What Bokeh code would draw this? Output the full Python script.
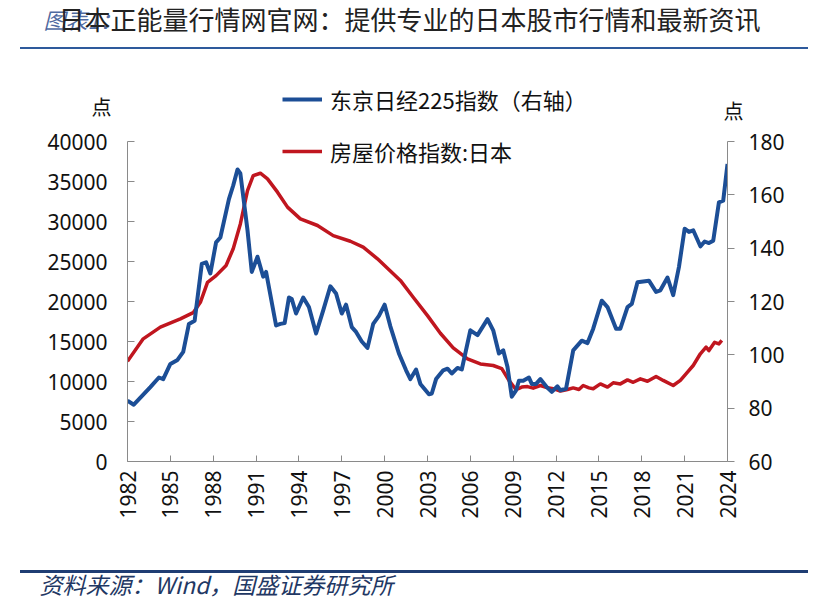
from math import pi
from bokeh.plotting import figure
from bokeh.models import LinearAxis, Range1d, FixedTicker, Legend, LegendItem, Title, Div
from bokeh.layouts import column
from bokeh.embed import file_html
from bokeh.resources import INLINE

# ---------------- data ----------------
nikkei_year = [1982.0, 1982.44, 1983.6, 1984.2, 1984.5, 1985.0, 1985.5, 1985.9, 1986.3, 1986.7,
               1987.2, 1987.5, 1987.8, 1988.2, 1988.5, 1989.1, 1989.4, 1989.7, 1989.9, 1990.4,
               1990.7, 1991.1, 1991.5, 1991.7, 1992.4, 1992.7, 1993.0, 1993.3, 1993.5, 1993.8,
               1994.3, 1994.7, 1995.2, 1995.7, 1996.2, 1996.6, 1997.0, 1997.3, 1997.7, 1998.0,
               1998.4, 1998.8, 1999.2, 1999.6, 2000.0, 2000.4, 2001.0, 2001.5, 2001.8, 2002.2,
               2002.5, 2003.1, 2003.3, 2003.6, 2004.1, 2004.4, 2004.7, 2005.1, 2005.4, 2006.0,
               2006.5, 2007.2, 2007.6, 2008.0, 2008.3, 2008.6, 2008.9, 2009.2, 2009.4, 2009.7,
               2010.1, 2010.3, 2010.6, 2010.9, 2011.4, 2011.7, 2012.1, 2012.3, 2012.7, 2013.2,
               2013.8, 2014.2, 2014.6, 2015.2, 2015.6, 2016.2, 2016.5, 2017.0, 2017.3, 2017.7,
               2018.5, 2019.0, 2019.3, 2019.8, 2020.2, 2020.6, 2021.0, 2021.3, 2021.6, 2022.1,
               2022.4, 2022.7, 2023.0, 2023.4, 2023.7, 2024.0]
nikkei_value = [7600, 7100, 9300, 10500, 10300, 12200, 12700, 13700, 17200, 17600,
                24700, 24900, 23500, 27400, 28000, 32800, 34500, 36500, 36000, 28900,
                23700, 25600, 23100, 23700, 17000, 17200, 17300, 20500, 20300, 18500,
                20500, 19300, 16000, 18900, 21900, 21000, 18500, 19600, 16800, 16200,
                15000, 14200, 17200, 18200, 19600, 16900, 13500, 11400, 10300, 11500,
                9700, 8400, 8500, 10300, 11400, 11600, 11000, 11700, 11500, 16400,
                15800, 17800, 16400, 13500, 13900, 11800, 8100, 8900, 10100, 10100,
                10500, 9700, 9700, 10300, 9200, 8700, 9400, 8900, 9100, 13900,
                15100, 14800, 16600, 20100, 19300, 16600, 16600, 19300, 19700, 22400,
                22600, 21200, 21400, 23000, 20800, 24300, 29100, 28700, 28900, 26900,
                27500, 27300, 27600, 32400, 32600, 37200]

house_year = [1982.0, 1983.1, 1984.3, 1985.7, 1986.6, 1987.1, 1987.6, 1988.2, 1988.9, 1989.4,
              1989.9, 1990.4, 1990.8, 1991.3, 1991.8, 1992.5, 1993.2, 1994.1, 1995.3, 1996.4,
              1997.6, 1998.5, 1999.5, 2000.4, 2001.1, 2002.0, 2003.0, 2003.9, 2004.8, 2005.8,
              2006.7, 2007.6, 2008.2, 2008.7, 2009.2, 2009.6, 2010.0, 2010.4, 2010.9, 2011.3,
              2011.8, 2012.3, 2012.8, 2013.2, 2013.6, 2013.9, 2014.3, 2014.6, 2015.1, 2015.6,
              2016.0, 2016.5, 2017.0, 2017.4, 2017.9, 2018.4, 2019.0, 2019.5, 2020.2, 2020.7,
              2021.2, 2021.6, 2022.1, 2022.5, 2022.7, 2023.1, 2023.4, 2023.6]
house_index = [97.6, 106.0, 110.4, 113.5, 115.8, 119.7, 127.2, 129.7, 133.5, 139.8,
               149.1, 161.6, 167.2, 168.1, 166.0, 161.0, 155.4, 151.0, 148.5, 144.7,
               142.6, 140.4, 136.0, 131.4, 127.9, 121.6, 114.7, 108.1, 102.6, 98.5,
               96.6, 96.0, 94.8, 90.4, 86.9, 87.9, 88.1, 87.5, 88.5, 87.8,
               87.3, 86.4, 87.0, 87.6, 87.0, 88.5, 87.6, 87.3, 89.1, 87.9,
               89.5, 89.1, 90.6, 89.7, 91.0, 90.1, 91.9, 90.4, 88.5, 90.4,
               93.5, 96.0, 100.4, 102.9, 101.6, 104.7, 104.1, 105.4]

left_ticks = [0, 5000, 10000, 15000, 20000, 25000, 30000, 35000, 40000]
right_ticks = [60, 80, 100, 120, 140, 160, 180]
year_ticks = list(range(1982, 2025, 3))

title_text = "日本正能量行情网官网：提供专业的日本股市行情和最新资讯"
watermark_text = "图表1："
legend_labels = ["东京日经225指数（右轴）", "房屋价格指数:日本"]
unit_label = "点"
source_text = "资料来源：Wind，国盛证券研究所"

CJK = "Noto Sans CJK SC"
BLUE = "#1C4E96"
RED = "#C0161F"
AXIS = "#8a8a8a"
W = 816
BL, BR = 127, 89


def strip(height, xr=(0, 1), yr=(0, 1), transparent=False):
    f = figure(width=W, height=height, x_range=Range1d(*xr), y_range=Range1d(*yr),
               output_backend="svg", toolbar_location=None,
               min_border_left=BL, min_border_right=BR, min_border_top=0, min_border_bottom=0,
               x_axis_location=None, y_axis_location=None)
    f.grid.visible = False
    f.outline_line_color = None
    f.border_fill_color = "white"
    f.background_fill_color = "white"
    if transparent:
        f.border_fill_alpha = 0
        f.background_fill_alpha = 0
    return f


# ---------------- faint figure-number watermark behind the title ----------------
wm = strip(47)
wm.title = Title(text=watermark_text, align="left", offset=-84, standoff=0,
                 text_font=CJK, text_font_size="22px", text_font_style="italic",
                 text_color="#2F4F8F", text_alpha=0.85)

# ---------------- page title (overlaps watermark) ----------------
top = strip(50, transparent=True)
top.margin = (-50, 0, 0, 0)
top.title = Title(text=title_text, align="left", offset=-69, standoff=0,
                  text_font=CJK, text_font_size="26px", text_font_style="normal",
                  text_color="#222222")

rule1 = Div(text="", width=788, height=2, margin=(0, 0, 0, 20),
            styles={"background-color": "#2E5A9C"})

# ---------------- key strip: unit labels + legend (chart overlaps its lower part) ----------------
mid = strip(126, xr=(1982, 2024), yr=(0, 126))
mid.extra_y_ranges = {"key": Range1d(40000, 50000)}
# the series in scales that put them outside this strip: only their legend keys show
blue_key = mid.line(nikkei_year, nikkei_value, y_range_name="key", line_color=BLUE, line_width=4)
red_key = mid.line(house_year, house_index, y_range_name="key", line_color=RED, line_width=3.5)
mid.add_layout(Legend(items=[LegendItem(label=legend_labels[0], renderers=[blue_key]),
                             LegendItem(label=legend_labels[1], renderers=[red_key])],
                      location=(155, 8), orientation="vertical",
                      glyph_width=40, glyph_height=30, label_height=30, spacing=20,
                      label_standoff=8, padding=0, margin=0,
                      label_text_font=CJK, label_text_font_size="22px",
                      label_text_color="#111111",
                      background_fill_alpha=0, border_line_alpha=0))
for side, tick, standoff in (("left", 69, 10), ("right", 65, -10)):
    ax = LinearAxis(ticker=FixedTicker(ticks=[tick]), major_label_overrides={tick: unit_label},
                    axis_line_color=None, major_tick_line_color=None, minor_tick_line_color=None,
                    major_label_standoff=standoff, major_label_text_font=CJK,
                    major_label_text_font_size="20px", major_label_text_color="#111111")
    mid.add_layout(ax, side)

# ---------------- main chart ----------------
p = figure(width=W, height=441, x_range=Range1d(1982, 2024), y_range=Range1d(0, 40000),
           output_backend="svg", toolbar_location=None,
           min_border_left=BL, min_border_right=BR, min_border_top=12, min_border_bottom=109)
p.margin = (-46, 0, 0, 0)
p.extra_y_ranges = {"right": Range1d(60, 180)}
p.grid.visible = False
p.outline_line_color = None
p.background_fill_alpha = 0
p.border_fill_alpha = 0

red = p.line(house_year, house_index, y_range_name="right", line_color=RED, line_width=3.5,
             line_join="round")
blue = p.line(nikkei_year, nikkei_value, line_color=BLUE, line_width=4, line_join="round")

ra = LinearAxis(y_range_name="right", ticker=FixedTicker(ticks=right_ticks))
p.add_layout(ra, "right")

p.yaxis[0].ticker = FixedTicker(ticks=left_ticks)
p.xaxis.ticker = FixedTicker(ticks=year_ticks)
p.xaxis.major_label_orientation = pi / 2

for ax in p.axis:
    ax.axis_line_color = AXIS
    ax.major_tick_line_color = AXIS
    ax.minor_tick_line_color = None
    ax.major_label_text_font = "Noto Sans"
    ax.major_label_text_font_size = "21px"
    ax.major_label_text_color = "#111111"

p.yaxis[0].major_tick_in = 7
p.yaxis[0].major_tick_out = 0
p.yaxis[0].major_label_standoff = 20
ra.major_tick_in = 0
ra.major_tick_out = 7
ra.major_label_standoff = 14
p.xaxis.major_tick_in = 6
p.xaxis.major_tick_out = 0
p.xaxis.major_label_standoff = 9

rule2 = Div(text="", width=788, height=3, margin=(0, 0, 0, 20),
            styles={"background-color": "#1F3D73"})

# ---------------- bottom strip: source ----------------
bot = strip(47, transparent=True)
bot.margin = (-9, 0, 0, 0)
bot.title = Title(text=source_text, align="left", offset=-88, standoff=0,
                  text_font=CJK, text_font_size="23px", text_font_style="italic",
                  text_color="#1F3864")

layout = column(wm, top, rule1, mid, p, rule2, bot, spacing=0)
open("out.html", "w").write(file_html(layout, INLINE))
